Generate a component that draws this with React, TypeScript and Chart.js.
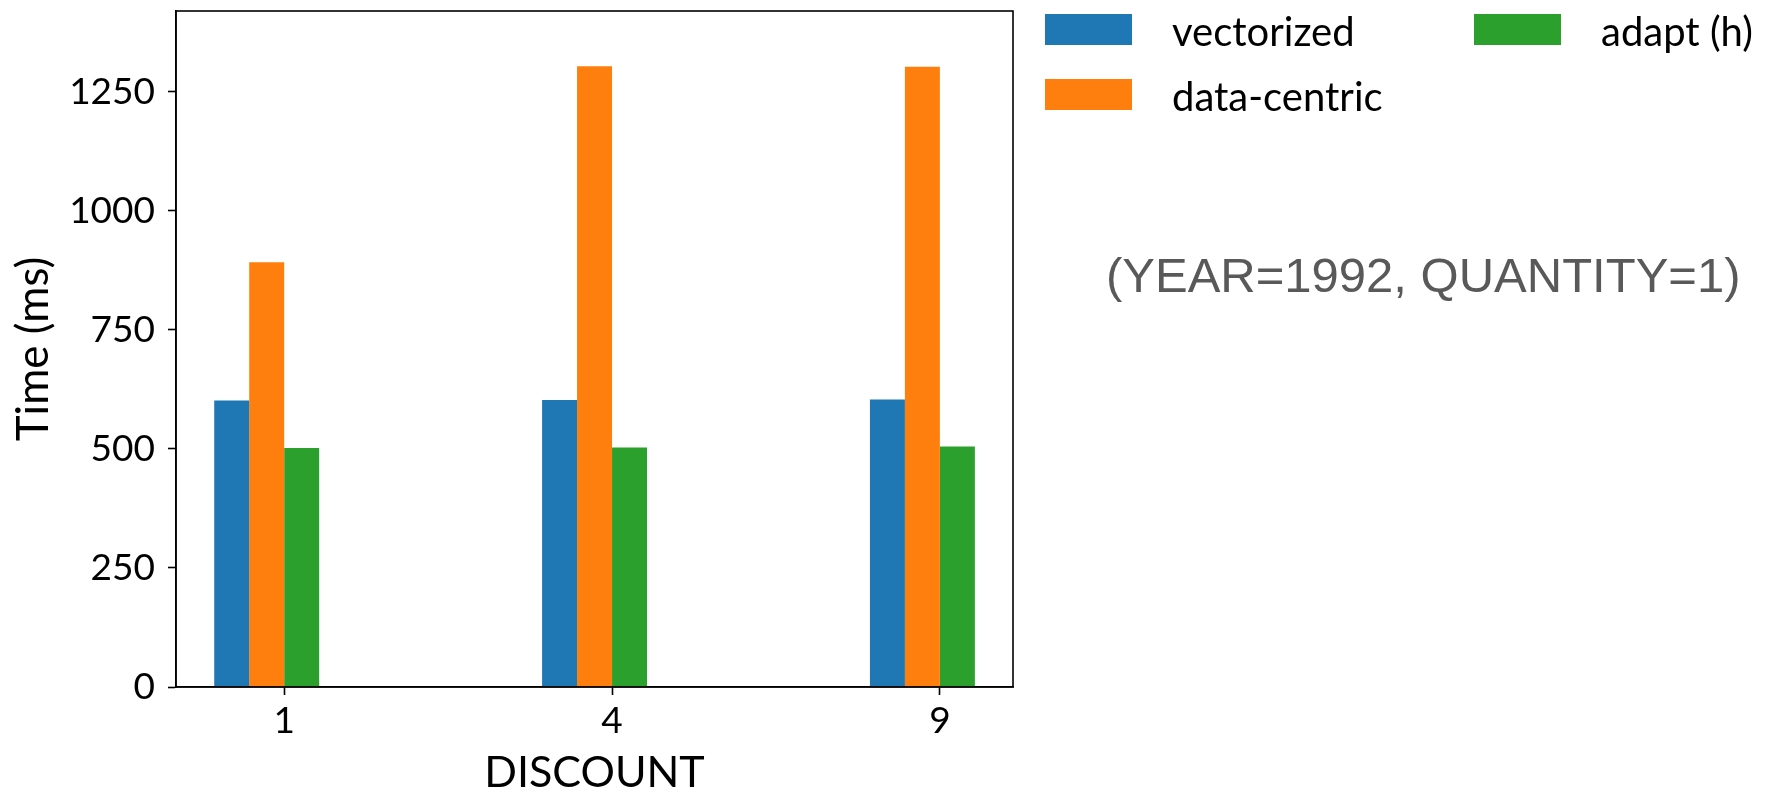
import React, { useEffect, useRef } from 'react';
import { Chart, registerables } from 'chart.js';

Chart.register(...registerables);

const categories = ['1', '4', '9'];
const vectorized = [602, 603, 604];
const dataCentric = [892, 1304, 1303];
const adaptH = [502, 503, 505];
const seriesLabels = ['vectorized', 'data-centric', 'adapt (h)'];
const seriesColors = ['#1f77b4', '#ff7f0e', '#2ca02c'];
const yTicks = [0, 250, 500, 750, 1000, 1250];
const yMax = 1420;
const xMin = -0.33;
const xMax = 2.223;
const xTitle = 'DISCOUNT';
const yTitle = 'Time (ms)';
const annotation = '(YEAR=1992, QUANTITY=1)';

const FONT = 'Lato';

const boxPlugin = {
  id: 'boxAndLegend',
  afterDraw(chart: any) {
    const { ctx, chartArea } = chart;
    ctx.save();
    ctx.strokeStyle = '#000';
    ctx.lineWidth = 1.6;
    ctx.strokeRect(chartArea.left, chartArea.top, chartArea.right - chartArea.left, chartArea.bottom - chartArea.top);

    const items = chart.data.datasets.filter((d: any) => d.label);
    const rows = Math.ceil(items.length / 2);
    items.forEach((ds: any, i: number) => {
      const col = Math.floor(i / rows);
      const row = i % rows;
      const x = 1045 + col * 429;
      const y = 14 + row * 65;
      ctx.fillStyle = ds.backgroundColor;
      ctx.fillRect(x, y, 87, 31);
      ctx.fillStyle = '#000';
      ctx.font = `40px ${FONT}`;
      ctx.textBaseline = 'alphabetic';
      ctx.textAlign = 'left';
      ctx.fillText(ds.label, x + 127, y + 32);
    });

    ctx.fillStyle = '#595959';
    ctx.font = '49px "Liberation Sans"';
    ctx.textBaseline = 'alphabetic';
    ctx.textAlign = 'left';
    ctx.fillText(annotation, 1106, 292);
    ctx.restore();
  },
};

export default function App() {
  const ref = useRef<HTMLCanvasElement>(null);
  useEffect(() => {
    if (!ref.current) return;
    const mk = (vals: number[]) => vals.map((v, i) => ({ x: i, y: v }));
    const chart = new Chart(ref.current, {
      type: 'bar',
      data: {
        datasets: [
          { label: seriesLabels[0], data: mk(vectorized), backgroundColor: seriesColors[0] },
          { label: seriesLabels[1], data: mk(dataCentric), backgroundColor: seriesColors[1] },
          { label: seriesLabels[2], data: mk(adaptH), backgroundColor: seriesColors[2] },
          { label: '', data: categories.map((_, i) => ({ x: i, y: null })), backgroundColor: 'rgba(0,0,0,0)' },
        ] as any,
      },
      options: {
        animation: false,
        responsive: false,
        categoryPercentage: 0.4268,
        barPercentage: 1,
        layout: { padding: { left: 0, top: 11, right: 762, bottom: 0 } },
        plugins: { legend: { display: false }, tooltip: { enabled: false } },
        scales: {
          x: {
            type: 'linear',
            min: xMin,
            max: xMax,
            offset: false,
            afterBuildTicks: (scale: any) => {
              scale.ticks = categories.map((_, i) => ({ value: i }));
            },
            afterFit: (scale: any) => {
              scale.height = 108;
              scale.paddingLeft = 0;
              scale.paddingRight = 0;
            },
            ticks: {
              callback: (v: any) => categories[v] ?? '',
              color: '#000',
              font: { family: FONT, size: 37 },
              padding: 4,
              maxRotation: 0,
              autoSkip: false,
            },
            grid: { offset: false, drawOnChartArea: false, drawTicks: true, tickLength: 8, color: '#000', tickWidth: 1.6 },
            border: { display: true, color: '#000', width: 1.6 },
            title: { display: true, text: xTitle, color: '#000', font: { family: FONT, size: 43, lineHeight: 1 }, padding: { top: 0, bottom: 0 } },
          },
          y: {
            type: 'linear',
            min: 0,
            max: yMax,
            afterBuildTicks: (scale: any) => {
              scale.ticks = yTicks.map((v) => ({ value: v }));
            },
            afterFit: (scale: any) => {
              scale.width = 176;
              scale.paddingTop = 0;
              scale.paddingBottom = 0;
            },
            ticks: {
              callback: (v: any) => String(v),
              color: '#000',
              font: { family: FONT, size: 37 },
              padding: 13,
            },
            grid: { offset: false, drawOnChartArea: false, drawTicks: true, tickLength: 8, color: '#000', tickWidth: 1.6 },
            border: { display: true, color: '#000', width: 1.6 },
            title: { display: true, text: yTitle, color: '#000', font: { family: FONT, size: 44, lineHeight: 1 }, padding: { top: 12, bottom: 0 } },
          },
        },
      } as any,
      plugins: [boxPlugin],
    });
    return () => chart.destroy();
  }, []);
  return (
    <div style={{ position: 'fixed', left: 0, top: 0, width: 1775, height: 795, background: '#fff' }}>
      <canvas ref={ref} width={1775} height={795} />
    </div>
  );
}
